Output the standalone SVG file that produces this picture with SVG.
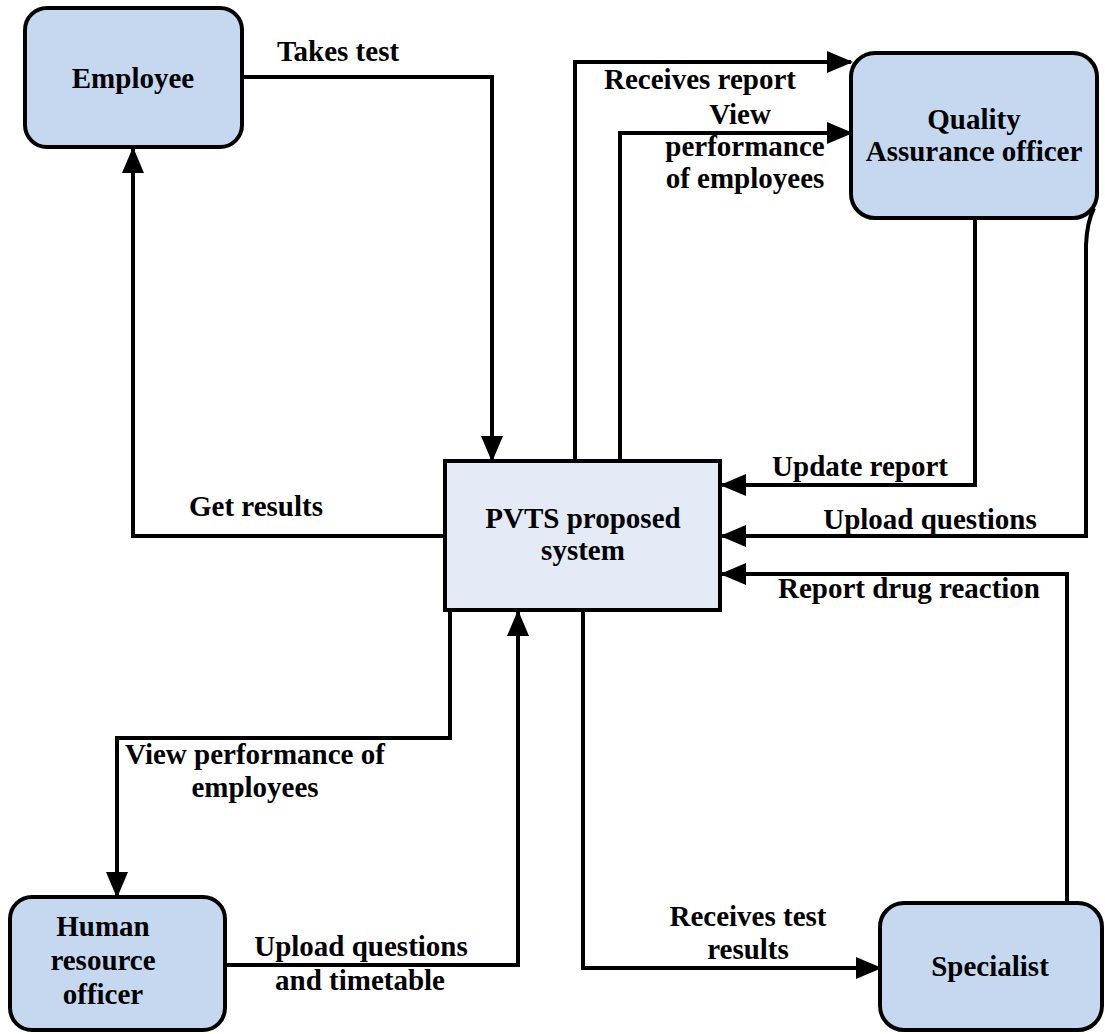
<svg xmlns="http://www.w3.org/2000/svg" width="1105" height="1034" viewBox="0 0 1105 1034">
  <style>
    .actor { fill: #C5D8EF; stroke: #000; stroke-width: 4; }
    .system { fill: #E4EAF6; stroke: #000; stroke-width: 4; }
    .flow { fill: none; stroke: #000; stroke-width: 4; stroke-linejoin: miter; }
    .txt { font-family: "Times New Roman", Times, Tinos, "Liberation Serif", "Noto Serif", "DejaVu Serif", serif; font-weight: 700; font-size: 29px; fill: #000; text-anchor: middle; }
  </style>
  <defs>
    <marker id="arrow" markerUnits="userSpaceOnUse" markerWidth="26" markerHeight="22" refX="24" refY="11" orient="auto">
      <path d="M0,0 L26,11 L0,22 Z" fill="#000"/>
    </marker>
  </defs>
  <rect width="1105" height="1034" fill="#fff"/>

  <!-- data flows -->
  <g id="connectors">
    <path class="flow" d="M242,77 H492 V460" marker-end="url(#arrow)"/>
    <path class="flow" d="M445,536 H133 V149" marker-end="url(#arrow)"/>
    <path class="flow" d="M575,460 V62 H851" marker-end="url(#arrow)"/>
    <path class="flow" d="M620,460 V133 H851" marker-end="url(#arrow)"/>
    <path class="flow" d="M975,218 V485 H722" marker-end="url(#arrow)"/>
    <path class="flow" d="M1094,208 Q1087,222 1086,245 V536 H722" marker-end="url(#arrow)"/>
    <path class="flow" d="M1067,903 V574 H722" marker-end="url(#arrow)"/>
    <path class="flow" d="M583,610 V968 H880" marker-end="url(#arrow)"/>
    <path class="flow" d="M450,610 V738 H117 V896" marker-end="url(#arrow)"/>
    <path class="flow" d="M225,965 H518 V612" marker-end="url(#arrow)"/>
  </g>

  <g class="txt">
    <!-- flow labels -->
    <g id="labels">
      <text x="338" y="61">Takes test</text>
      <text x="256" y="516">Get results</text>
      <text x="700" y="89">Receives report</text>
      <text x="740" y="124">View</text>
      <text x="745" y="156">performance</text>
      <text x="745" y="188">of employees</text>
      <text x="860" y="476">Update report</text>
      <text x="930" y="529">Upload questions</text>
      <text x="909" y="598">Report drug reaction</text>
      <text x="748" y="926">Receives test</text>
      <text x="748" y="959">results</text>
      <text x="255" y="764">View performance of</text>
      <text x="255" y="797">employees</text>
      <text x="361" y="956">Upload questions</text>
      <text x="360" y="990">and timetable</text>
    </g>

    <g id="employee">
      <rect class="actor" x="25" y="8" width="217" height="139" rx="22"/>
      <text x="133" y="88">Employee</text>
    </g>

    <g id="qa-officer">
      <rect class="actor" x="851" y="53" width="246" height="165" rx="24"/>
      <text x="974" y="129">Quality</text>
      <text x="974" y="161">Assurance officer</text>
    </g>

    <g id="pvts-system">
      <rect class="system" x="445" y="461" width="275" height="149"/>
      <text x="583" y="528">PVTS proposed</text>
      <text x="583" y="560">system</text>
    </g>

    <g id="hr-officer">
      <rect class="actor" x="10" y="897" width="215" height="133" rx="22"/>
      <text x="103" y="936">Human</text>
      <text x="103" y="970">resource</text>
      <text x="103" y="1004">officer</text>
    </g>

    <g id="specialist">
      <rect class="actor" x="880" y="903" width="222" height="127" rx="24"/>
      <text x="990" y="976">Specialist</text>
    </g>
  </g>
</svg>
